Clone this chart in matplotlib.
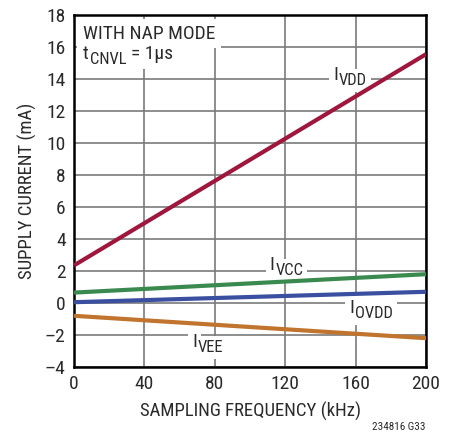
import matplotlib
matplotlib.use("Agg")
import matplotlib.pyplot as plt
from matplotlib import font_manager

fams = {f.name for f in font_manager.fontManager.ttflist}
fam = 'DejaVu Sans'
for cand in ['Roboto Condensed', 'Liberation Sans Narrow', 'Open Sans Condensed', 'Liberation Sans']:
    if cand in fams:
        fam = cand
        break
plt.rcParams['font.family'] = [fam, 'DejaVu Sans']

freq = [0, 200]
ivdd = [2.35, 15.55]
ivcc = [0.65, 1.8]
iovdd = [0.05, 0.7]
ivee = [-0.8, -2.2]

xticks = [0, 40, 80, 120, 160, 200]
yticks = [-4, -2, 0, 2, 4, 6, 8, 10, 12, 14, 16, 18]

TXT = '#2a2a2a'
fig = plt.figure(figsize=(4.57, 4.36), dpi=100)
ax = fig.add_axes([74/457, 1-367/436, 352/457, 352/436])
ax.set_xlim(0, 200)
ax.set_ylim(-4, 18)
ax.set_xticks(xticks)
ax.set_yticks(yticks)
ax.set_yticklabels([str(v).replace('-', '\u2013') for v in yticks])
ax.grid(True, color='#7a7a7a', lw=1.2)
ax.set_axisbelow(True)
ax.tick_params(length=0, labelsize=14, pad=6, colors=TXT)
for s in ax.spines.values():
    s.set_linewidth(1.8)
    s.set_color('black')

lw = 3.0
ax.plot(freq, ivdd, color='#A0173E', lw=lw, solid_capstyle='butt', zorder=4.5)
ax.plot(freq, ivcc, color='#3A8A4F', lw=lw, solid_capstyle='butt', zorder=4.5)
ax.plot(freq, iovdd, color='#3A4FA0', lw=lw, solid_capstyle='butt', zorder=4.5)
ax.plot(freq, ivee, color='#C0742E', lw=lw, solid_capstyle='butt', zorder=4.5)


def sublabel(x, y, main, sub, size=14, pad=3, tail=None, tail_dx=0):
    # background pass (white boxes), then foreground text on top
    for layer in (0, 1):
        bb = dict(facecolor='white', edgecolor='none', pad=pad) if layer == 0 else None
        col = 'white' if layer == 0 else TXT
        z = 4 if layer == 0 else 5
        t = ax.text(x, y, main, fontsize=size, ha='right', va='center', color=col,
                    bbox=bb, zorder=z)
        ax.annotate(sub, xy=(1, 0.5), xycoords=t, xytext=(0.5, -4),
                    textcoords='offset points', fontsize=size * 0.85,
                    ha='left', va='center', color=col, bbox=bb, zorder=z)
        if tail is not None:
            ax.annotate(tail, xy=(1, 0.5), xycoords=t, xytext=(tail_dx, 0),
                        textcoords='offset points', fontsize=size, ha='left',
                        va='center', color=col, bbox=bb, zorder=z)


sublabel(150, 14.25, 'I', 'VDD')
sublabel(114, 2.4, 'I', 'VCC')
sublabel(159, -0.3, 'I', 'OVDD')
sublabel(70, -2.45, 'I', 'VEE')

ax.text(5, 17.4, 'WITH NAP MODE', fontsize=14, ha='left', va='top', color=TXT,
        bbox=dict(facecolor='white', edgecolor='none', pad=4), zorder=5)
sublabel(8.5, 15.55, 't', 'CNVL', pad=4, tail='= 1µs', tail_dx=30)

ax.set_xlabel('SAMPLING FREQUENCY (kHz)', fontsize=13.5, labelpad=6, color=TXT)
ax.set_ylabel('SUPPLY CURRENT (mA)', fontsize=13.5, labelpad=6, color=TXT)

fig.text(426/457, 1-432/436, '234816 G33', fontsize=8, ha='right', va='bottom', color=TXT)

fig.savefig('out.png', dpi=100)
